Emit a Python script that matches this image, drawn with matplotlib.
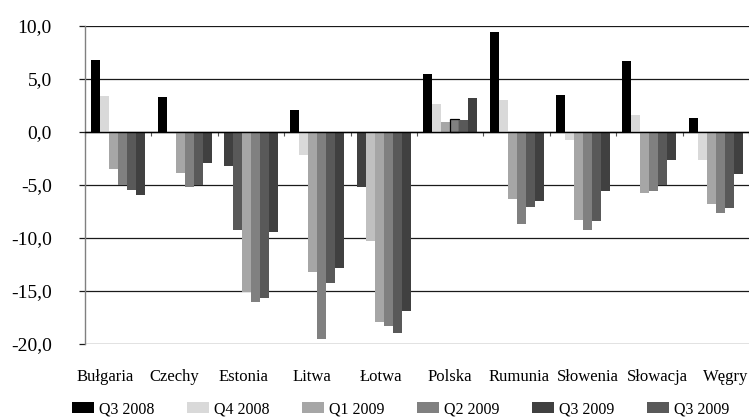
import matplotlib
matplotlib.use("Agg")
import matplotlib.pyplot as plt
from matplotlib.patches import Patch
import numpy as np

plt.rcParams['font.family'] = ['Liberation Serif', 'DejaVu Serif']

categories = ["Bułgaria", "Czechy", "Estonia", "Litwa", "Łotwa",
              "Polska", "Rumunia", "Słowenia", "Słowacja", "Węgry"]

# series in the order the bars appear within each group
q3_2008 = [6.8, 3.3, -3.2, 2.1, -5.2, 5.5, 9.4, 3.5, 6.7, 1.3]
q4_2008 = [3.4, -0.1, -9.2, -2.2, -10.3, 2.6, 3.0, -0.8, 1.6, -2.6]
q1_2009 = [-3.5, -3.9, -15.1, -13.2, -17.9, 0.9, -6.3, -8.3, -5.8, -6.8]
q2_2009 = [-5.0, -5.2, -16.0, -19.5, -18.3, 1.2, -8.7, -9.2, -5.6, -7.6]
q3_2009_b = [-5.5, -5.0, -15.7, -14.2, -19.0, 1.1, -7.1, -8.4, -5.0, -7.2]
q3_2009_a = [-5.9, -2.9, -9.4, -12.8, -16.9, 3.2, -6.5, -5.6, -2.6, -4.0]

series_values = [q3_2008, q4_2008, q1_2009, q2_2009, q3_2009_b, q3_2009_a]
series_colors = ["#000000", "#d9d9d9", "#a6a6a6", "#808080", "#595959", "#404040"]

# individually recoloured points: (series index, category index) -> colour
point_colors = {(0, 2): "#404040", (1, 2): "#595959",
                (0, 4): "#404040", (1, 4): "#c0c0c0"}
outlined_points = {(3, 5)}

legend_labels = ["Q3 2008", "Q4 2008", "Q1 2009", "Q2 2009", "Q3 2009", "Q3 2009"]
legend_colors = ["#000000", "#d9d9d9", "#a6a6a6", "#808080", "#404040", "#595959"]

yticks = [10, 5, 0, -5, -10, -15, -20]

fig = plt.figure(figsize=(7.49, 4.20), dpi=100)
ax_left_px, ax_w_px = 85, 664
ax = fig.add_axes([ax_left_px / 749, 1 - 344 / 420, ax_w_px / 749, (344 - 26) / 420])

n = len(series_values)
x = np.arange(len(categories))
bw = 0.1356
for i, vals in enumerate(series_values):
    cols = [point_colors.get((i, j), series_colors[i]) for j in range(len(vals))]
    bars = ax.bar(x + (i - (n - 1) / 2) * bw, vals, width=bw, color=cols,
                  linewidth=0, zorder=2)
    for j, b in enumerate(bars):
        if (i, j) in outlined_points:
            b.set_edgecolor("#000000")
            b.set_linewidth(0.9)

ax.set_xlim(-0.5, len(categories) - 0.5)
ax.set_ylim(-20, 10)
ax.set_yticks(yticks)
ax.set_yticklabels([f"{v:.1f}".replace(".", ",") for v in yticks], fontsize=14)
ax.yaxis.grid(True, color="#1a1a1a", linewidth=0.9, zorder=0)
ax.set_axisbelow(True)
ax.tick_params(axis="y", direction="out", length=4, width=0.9, color="#1a1a1a", pad=20)

for s in ["top", "right"]:
    ax.spines[s].set_visible(False)
ax.spines["left"].set_color("#808080")
ax.spines["left"].set_linewidth(1.0)
ax.spines["bottom"].set_position(("data", 0))
ax.spines["bottom"].set_color("#000000")
ax.spines["bottom"].set_linewidth(1.0)
ax.spines["bottom"].set_zorder(3)

ax.set_xticks(np.arange(len(categories) + 1) - 0.5)
ax.set_xticklabels([])
ax.tick_params(axis="x", direction="out", length=3, width=0.8, color="#555555")

# category labels sit on their own, slightly narrower row (as in the source)
label_first_px, label_pitch_px = 105, 69
label_pos = (label_first_px + label_pitch_px * x - ax_left_px) / (ax_w_px / len(categories)) - 0.5
sec = ax.secondary_xaxis(0)
sec.set_xticks(label_pos)
sec.set_xticklabels(categories, fontsize=12)
sec.tick_params(length=0, pad=18)
sec.spines["bottom"].set_visible(False)

handles = [Patch(facecolor=c, edgecolor="none") for c in legend_colors]
fig.legend(handles, legend_labels, loc="center", bbox_to_anchor=(400.5 / 749, 1 - 409.5 / 420),
           ncol=6, frameon=False, fontsize=11.5, handlelength=1.375, handleheight=0.69,
           handletextpad=0.31, columnspacing=2.05, borderpad=0, borderaxespad=0)

fig.savefig("out.png", dpi=100)
